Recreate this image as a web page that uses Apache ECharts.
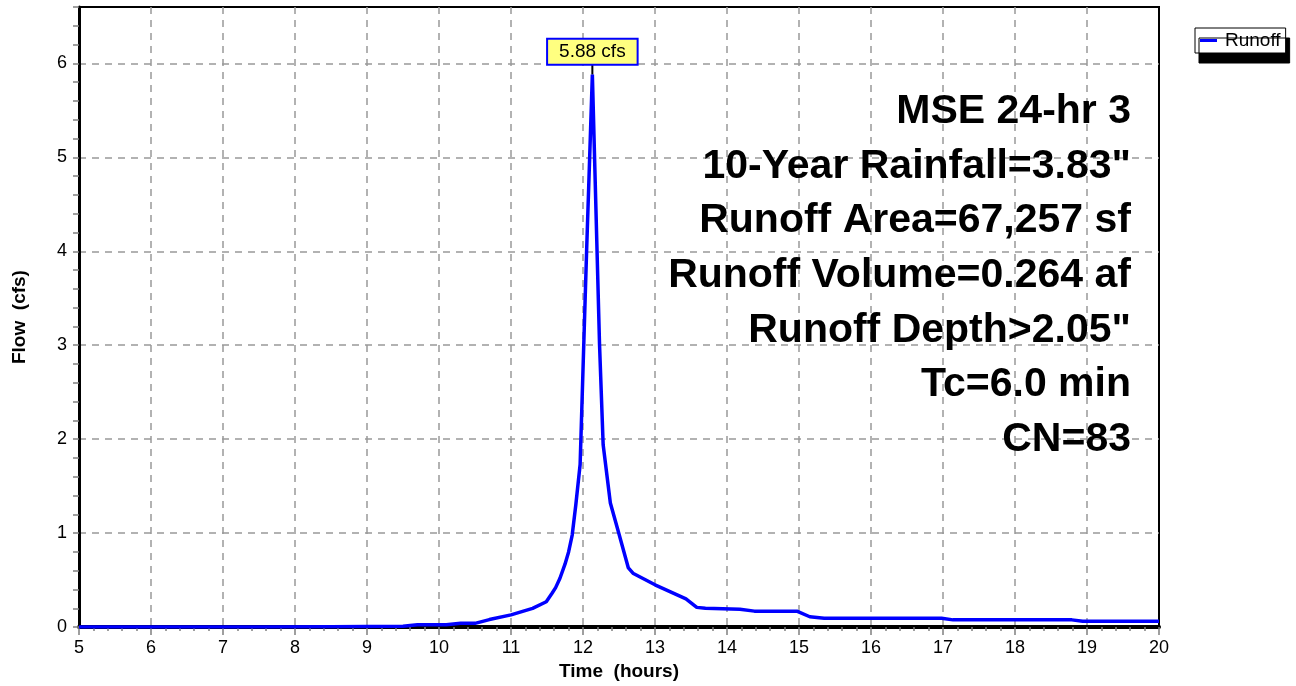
<!DOCTYPE html>
<html>
<head>
<meta charset="utf-8">
<script src="https://cdn.jsdelivr.net/npm/echarts@6/dist/echarts.min.js"></script>
<style>
  html, body { margin: 0; padding: 0; background: #fff; }
  #chart { width: 1296px; height: 686px; }
</style>
</head>
<body>
<div id="chart"></div>
<script>
// hydrograph
var times = [5.0, 7.5, 8.5, 9.5, 9.7, 10.1, 10.3, 10.5, 10.7, 11.0, 11.3, 11.49, 11.57, 11.62, 11.68,
  11.75, 11.80, 11.85, 11.90, 11.96, 12.05, 12.13, 12.23, 12.28, 12.38, 12.50, 12.63, 12.70, 13.00,
  13.43, 13.58, 13.70, 14.18, 14.38, 14.97, 15.15, 15.35, 16.98, 17.14, 18.79, 18.94, 20.0];
var flows = [0.00, 0.00, 0.005, 0.01, 0.025, 0.025, 0.04, 0.04, 0.08, 0.13, 0.20, 0.27, 0.36, 0.42, 0.52,
  0.67, 0.80, 0.98, 1.30, 1.73, 4.00, 5.88, 3.00, 1.94, 1.32, 0.99, 0.63, 0.57, 0.45,
  0.30, 0.21, 0.20, 0.19, 0.17, 0.17, 0.11, 0.095, 0.095, 0.077, 0.077, 0.062, 0.062];
var peakTime = 12.13;
var peakFlow = 5.88;
var infoLines = [
  'MSE 24-hr 3',
  '10-Year Rainfall=3.83"',
  'Runoff Area=67,257 sf',
  'Runoff Volume=0.264 af',
  'Runoff Depth>2.05"',
  'Tc=6.0 min',
  'CN=83'
];

var font = "'Liberation Sans', Arial, sans-serif";
var chart = echarts.init(document.getElementById('chart'));

var seriesData = times.map(function (t, i) { return [t, flows[i]]; });

// text block at right side of the plot
var infoText = infoLines.map(function (s, i) {
  return {
    type: 'text',
    right: 1296 - 1131,
    top: 112 + i * 54.7 - 21,
    z: 10,
    style: {
      text: s,
      font: 'bold 41px ' + font,
      fill: '#000',
      textAlign: 'right'
    }
  };
});

var gridLine = { color: '#999', type: [7, 6], width: 1.5 };

var option = {
  animation: false,
  textStyle: { fontFamily: font },
  grid: {
    left: 79, right: 137, top: 7, bottom: 56,
    show: true, borderColor: '#000', borderWidth: 2, backgroundColor: '#fff'
  },
  legend: {
    data: ['Runoff'],
    left: 1195, top: 28,
    orient: 'vertical',
    icon: 'rect',
    itemWidth: 17, itemHeight: 3,
    padding: [3, 5, 3, 5],
    backgroundColor: '#fff',
    borderColor: '#000', borderWidth: 1,
    shadowColor: '#000', shadowBlur: 0, shadowOffsetX: 4, shadowOffsetY: 10,
    textStyle: { fontSize: 19, color: '#000', fontFamily: font, padding: [0, 0, 0, 3] }
  },
  xAxis: {
    type: 'value',
    min: 5, max: 20, interval: 1,
    name: 'Time  (hours)',
    nameLocation: 'middle', nameGap: 33,
    nameTextStyle: { fontSize: 19, fontWeight: 'bold', color: '#000', fontFamily: font },
    axisLine: { show: true, onZero: false, lineStyle: { color: '#000', width: 4 } },
    axisTick: { show: true, length: 8, lineStyle: { color: '#808080', width: 1.5 } },
    minorTick: { show: true, splitNumber: 5, length: 4, lineStyle: { color: '#808080', width: 1.5 } },
    axisLabel: { fontSize: 18, color: '#000', margin: 12, fontFamily: font },
    splitLine: { show: true, showMinLine: false, showMaxLine: false, lineStyle: gridLine }
  },
  yAxis: [
    {
      type: 'value',
      min: 0, max: 6.6, interval: 1,
      name: 'Flow  (cfs)',
      nameLocation: 'middle', nameGap: 50,
      nameTextStyle: { fontSize: 19, fontWeight: 'bold', color: '#000', fontFamily: font },
      axisLine: { show: true, lineStyle: { color: '#000', width: 3 } },
      axisTick: { show: false },
      axisLabel: {
        fontSize: 18, color: '#000', margin: 12, fontFamily: font, showMaxLabel: false,
        formatter: function (v) { return Number.isInteger(v) ? String(v) : ''; }
      },
      splitLine: { show: true, showMinLine: false, showMaxLine: false, lineStyle: gridLine }
    },
    {
      // minor ticks every 0.2
      type: 'value',
      position: 'left',
      min: 0, max: 6.6, interval: 0.2,
      axisLine: { show: false },
      axisTick: { show: true, length: 6, lineStyle: { color: '#808080', width: 1.5 } },
      axisLabel: { show: false },
      splitLine: { show: false }
    }
  ],
  graphic: infoText,
  series: [
    {
      name: 'Runoff',
      type: 'line',
      data: seriesData,
      showSymbol: false,
      symbol: 'none',
      color: '#0000ff',
      lineStyle: { color: '#0000ff', width: 3.5 },
      z: 5,
      markPoint: {
        symbol: 'rect',
        symbolSize: [2, 11],
        symbolOffset: [0, '-50%'],
        itemStyle: { color: '#000' },
        label: {
          show: true,
          position: 'top',
          distance: 0,
          formatter: peakFlow.toFixed(2) + ' cfs',
          fontSize: 19,
          color: '#000',
          fontFamily: font,
          backgroundColor: '#ffff80',
          borderColor: '#0000ff',
          borderWidth: 2,
          padding: [3, 11, 2, 11]
        },
        data: [{ coord: [peakTime, peakFlow] }]
      }
    }
  ]
};

chart.setOption(option);
</script>
</body>
</html>
